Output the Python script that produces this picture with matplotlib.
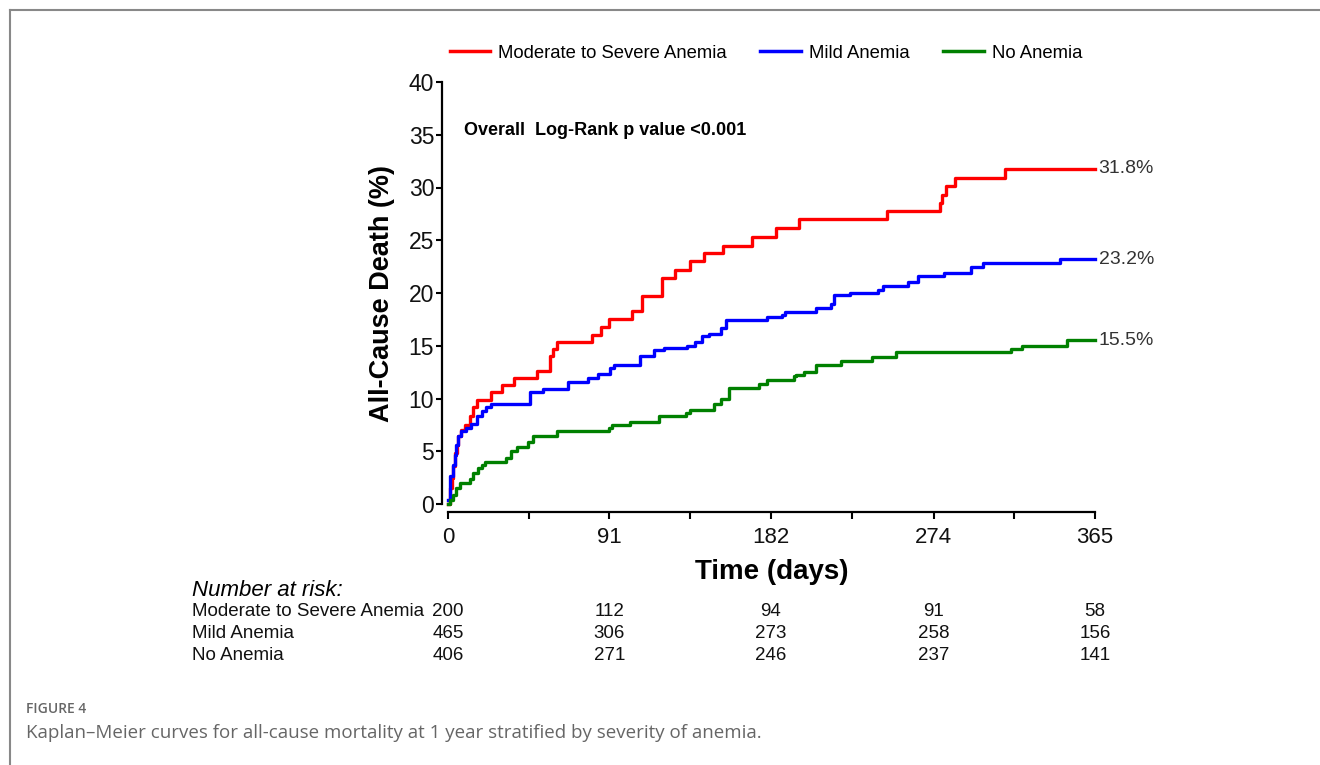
import matplotlib
matplotlib.use("Agg")
import matplotlib.pyplot as plt
import matplotlib.transforms as mtransforms
from matplotlib.lines import Line2D

# Kaplan-Meier step data (days, cumulative all-cause death %)
sev_t = [0, 0.9, 2, 3, 3.8, 5, 5.7, 7.2, 9.4, 12.3, 14.2, 16.4, 24.5, 30.2, 37.4, 50, 57.5, 59.4, 61.3, 81,
         86.4, 90.6, 103.8, 109.4, 120.8, 128.3, 136.8, 144.3, 155.3, 171.7, 184.9, 198, 247.9, 277.5, 278.5,
         281, 286, 314, 365]
sev_v = [0, 1.5, 2.5, 3.6, 4.8, 5.6, 6.4, 7.0, 7.5, 8.3, 9.2, 9.9, 10.6, 11.3, 11.9, 12.6, 14.0, 14.7, 15.4, 16.0,
         16.8, 17.5, 18.3, 19.7, 21.4, 22.2, 23.0, 23.8, 24.5, 25.3, 26.2, 27.0, 27.8, 28.5, 29.3,
         30.1, 30.9, 31.8, 31.8]

mild_t = [0, 0.9, 2.8, 3.8, 4.7, 5.7, 7.2, 10.4, 13.2, 16.4, 18.9, 21.7, 24, 46.2, 53.8, 67.9, 79.2, 84.9, 91.5,
          93.4, 108.5, 116, 121.7, 134.9, 139.6, 143.4, 147.2, 153.8, 156.6, 180.2, 188.7, 190, 207.7, 215.8,
          218, 226.6, 242.6, 245.6, 259.6, 264.9, 280, 295, 302, 345, 365]
mild_v = [0.4, 2.7, 3.7, 4.6, 5.6, 6.4, 6.9, 7.2, 7.6, 8.3, 8.8, 9.2, 9.5, 10.6, 10.9, 11.6, 11.9, 12.3, 12.9,
          13.2, 14.0, 14.6, 14.8, 15.0, 15.4, 15.9, 16.1, 16.7, 17.4, 17.7, 17.9, 18.2, 18.6, 19.0,
          19.8, 20.0, 20.3, 20.7, 21.0, 21.6, 21.9, 22.5, 22.8, 23.2, 23.2]

none_t = [0, 0.9, 2.8, 4.7, 6.6, 12.3, 14.2, 17, 18.9, 20.8, 33, 35.8, 38.7, 45.3, 48.1, 61.3, 90.6, 92.5, 102.8,
          118.9, 134, 136.8, 150, 153.8, 158.5, 175.5, 180.2, 195.3, 196.4, 201, 207.7, 221.9, 239.2, 253,
          317.7, 324, 349, 365]
none_v = [0, 0.4, 0.85, 1.5, 2.0, 2.4, 2.9, 3.4, 3.7, 4.0, 4.4, 5.0, 5.4, 5.9, 6.4, 6.9, 7.2, 7.5, 7.8,
          8.3, 8.6, 8.9, 9.5, 10.0, 11.0, 11.4, 11.8, 12.1, 12.2, 12.5, 13.2, 13.6, 13.9, 14.4,
          14.7, 15.0, 15.5, 15.5]

groups = ["Moderate to Severe Anemia", "Mild Anemia", "No Anemia"]
colors = ["#ff0000", "#0000ff", "#008000"]
end_labels = ["31.8%", "23.2%", "15.5%"]

risk_days = [0, 91, 182, 274, 365]
risk_sev = [200, 112, 94, 91, 58]
risk_mild = [465, 306, 273, 258, 156]
risk_none = [406, 271, 246, 237, 141]

x_ticks = [0, 45.5, 91, 136.5, 182, 228, 274, 319.5, 365]
x_ticklabels = ["0", "", "91", "", "182", "", "274", "", "365"]

NARROW = ["Liberation Sans Narrow", "Liberation Sans", "DejaVu Sans"]
plt.rcParams["font.family"] = ["Liberation Sans", "DejaVu Sans"]

W, H = 1320, 765
fig = plt.figure(figsize=(W / 100, H / 100), dpi=100)
ax = fig.add_axes([448 / W, 1 - 504 / H, (1095 - 448) / W, (504 - 82) / H])

series = [(sev_t, sev_v), (mild_t, mild_v), (none_t, none_v)]
for (t, v), c in zip(series, colors):
    ax.step(t, v, where="post", color=c, lw=2.4, clip_on=False, zorder=3)

ax.set_xlim(0, 365)
ax.set_ylim(0, 40)
ax.spines[["top", "right"]].set_visible(False)
for s in ["left", "bottom"]:
    ax.spines[s].set_linewidth(1.6)
ax.spines["left"].set_position(("outward", 4))
ax.spines["bottom"].set_position(("outward", 5.5))
ax.spines["left"].set_bounds(0, 40)
ax.spines["bottom"].set_bounds(0, 365)

ax.set_yticks(range(0, 41, 5))
ax.tick_params(axis="y", labelsize=16.5, length=4, width=1.5, pad=2, labelcolor="#111")
ax.set_xticks(x_ticks)
ax.set_xticklabels(x_ticklabels, fontfamily=NARROW)
ax.tick_params(axis="x", labelsize=16, length=5, width=1.5, pad=6, labelcolor="#111")

ax.set_ylabel("All-Cause Death (%)", fontsize=19.5, fontweight="bold", labelpad=10)
ax.set_xlabel("Time (days)", fontsize=20, fontweight="bold", fontfamily=NARROW, labelpad=8)

ax.text(0.025, 0.885, "Overall  Log-Rank p value <0.001", transform=ax.transAxes,
        fontsize=13, fontweight="bold", va="center")

for (t, v), lab in zip(series, end_labels):
    ax.text(367, v[-1], lab, fontsize=14, color="#333", va="center", ha="left", clip_on=False)

# legend at top
handles = [Line2D([0], [0], color=c, lw=2.5) for c in colors]
fig.legend(handles, groups, loc="center", bbox_to_anchor=(766 / W, 1 - 53 / H), ncol=3, frameon=False,
           prop={"family": NARROW, "size": 13.3}, handlelength=2.2, handletextpad=0.45, columnspacing=1.8)

# number at risk table
tr = mtransforms.blended_transform_factory(ax.transData, fig.transFigure)
fig.text(192 / W, 1 - 590 / H, "Number at risk:", fontsize=16, style="italic", family=NARROW, va="center")
rows = [risk_sev, risk_mild, risk_none]
row_y = [611, 633, 656]
for name, vals, yy in zip(groups, rows, row_y):
    fig.text(192 / W, 1 - yy / H, name, fontsize=13.5, family=NARROW, va="center", color="#111")
    for d, n in zip(risk_days, vals):
        ax.text(d, 1 - yy / H, str(n), transform=tr, fontsize=13.5, family=NARROW, ha="center",
                va="center", color="#111", clip_on=False)

# caption and frame
fig.text(26 / W, 1 - 709 / H, "FIGURE 4", fontsize=10, family=["Open Sans", "DejaVu Sans"],
         fontweight="semibold", color="#666", va="center")
fig.text(26 / W, 1 - 733 / H,
         "Kaplan\u2013Meier curves for all-cause mortality at 1 year stratified by severity of anemia.",
         fontsize=13.5, family=["Open Sans", "DejaVu Sans"], color="#666", va="center")
fig.add_artist(Line2D([10 / W, 1], [1 - 10 / H, 1 - 10 / H], transform=fig.transFigure, color="#888", lw=1.5))
fig.add_artist(Line2D([10 / W, 10 / W], [0, 1 - 10 / H], transform=fig.transFigure, color="#888", lw=1.5))

fig.savefig("out.png", dpi=100)
